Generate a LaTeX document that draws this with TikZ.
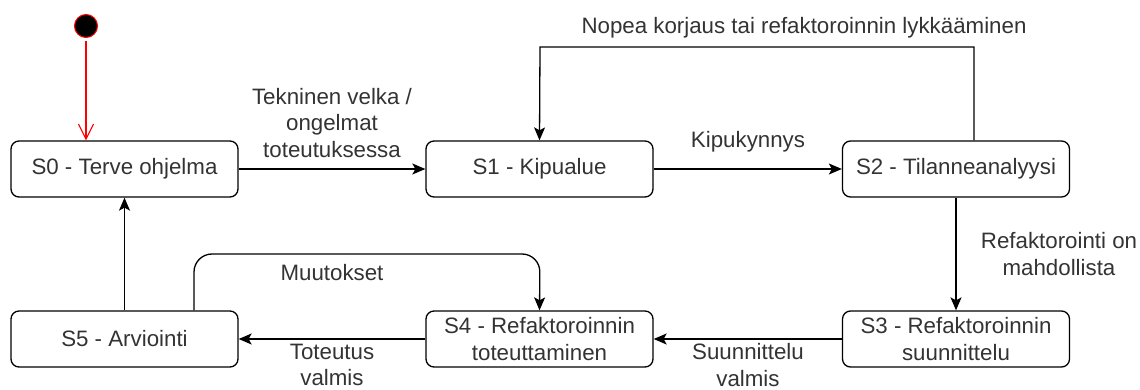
\documentclass[tikz,border=0pt]{standalone}
\usepackage{fontspec}
\setmainfont{Liberation Sans}
\usetikzlibrary{arrows.meta}
\definecolor{txt}{HTML}{333333}
\tikzset{
  state/.style={draw=black, line width=1.3pt, rounded corners=8pt, minimum width=227pt,
    minimum height=56pt, inner sep=0pt, align=center, font=\fontsize{22.3}{26.5}\selectfont, text=txt},
  lbl/.style={align=center, inner sep=0pt, font=\fontsize{22.3}{26.5}\selectfont, text=txt},
  conn/.style={draw=black, line width=1.3pt, -{Stealth[length=13pt,width=11pt,inset=3pt]}},
}
\begin{document}
\begin{tikzpicture}[x=1pt,y=-1pt]
\useasboundingbox (0,0) rectangle (1140,390);
\node[circle, fill=black, draw=red, line width=1pt, minimum size=23pt, inner sep=0pt] (start) at (86,26) {};
\node[state] (s0) at (124.5,169) {S0 - Terve ohjelma};
\node[state] (s1) at (539.5,169) {S1 - Kipualue};
\node[state] (s2) at (956,169) {S2 - Tilanneanalyysi};
\node[state] (s3) at (956,339) {S3 - Refaktoroinnin\\suunnittelu};
\node[state] (s4) at (539.5,339) {S4 - Refaktoroinnin\\toteuttaminen};
\node[state] (s5) at (124.5,339) {S5 - Arviointi};
\coordinate (lt) at (540,47);
\coordinate (ml) at (540,254);
% connectors
\draw[red, line width=1.1pt, shorten <=3pt, -{Straight Barb[length=15pt,width=15pt,line width=1.1pt]}] (start.south) -- (start.south |- s0.north);
\draw[conn] (s0) -- (s1);
\draw[conn] (s1) -- (s2);
\draw[conn] ([xshift=18pt]s2.north) |- (lt) -- (s1.north);
\draw[conn] (s2) -- (s3);
\draw[conn] (s3) -- (s4);
\draw[conn] (s4) -- (s5);
\draw[conn] (s5) -- (s0);
\draw[conn, rounded corners=18pt] ([xshift=69.5pt]s5.north) |- (ml) -- (s4.north);
% labels
\node[lbl] (l01) at (332,123) {Tekninen velka /\\ongelmat\\toteutuksessa};
\node[lbl] (l12) at (748,142) {Kipukynnys};
\node[lbl] (l21) at (804,28) {Nopea korjaus tai refaktoroinnin lykkääminen};
\node[lbl] (l23) at (1059,254) {Refaktorointi on\\mahdollista};
\node[lbl] (l34) at (748,365) {Suunnittelu\\valmis};
\node[lbl] (l45) at (332,365) {Toteutus\\valmis};
\node[lbl] (l54) at (332,273) {Muutokset};
\end{tikzpicture}
\end{document}
